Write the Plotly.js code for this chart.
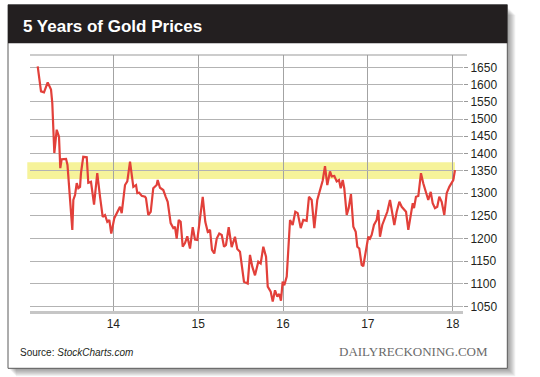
<!DOCTYPE html>
<html>
<head>
<meta charset="utf-8">
<script src="https://cdn.plot.ly/plotly-3.0.1.min.js"></script>
<style>
  html, body { margin: 0; padding: 0; background: #ffffff; }
  #chart { width: 540px; height: 377px; }
</style>
</head>
<body>
<div id="chart"></div>
<script>
// ---- Data ----
const titleText = "5 Years of Gold Prices";
const sourceText = "Source: <i>StockCharts.com</i>";
const brandText = "DAILYRECKONING.COM";

// decimal years (x) and gold price (USD/oz)
const years = [
  2013.109, 2013.148, 2013.183, 2013.227, 2013.266, 2013.281, 2013.305, 2013.333, 2013.360, 2013.375,
  2013.392, 2013.443, 2013.460, 2013.517, 2013.529, 2013.549, 2013.569, 2013.588, 2013.608, 2013.619,
  2013.646, 2013.687, 2013.705, 2013.737, 2013.773, 2013.811, 2013.843, 2013.875, 2013.902, 2013.929,
  2013.953, 2013.976, 2014.012, 2014.052, 2014.079, 2014.099, 2014.138, 2014.165, 2014.197, 2014.236,
  2014.268, 2014.283, 2014.306, 2014.335, 2014.374, 2014.385, 2014.412, 2014.441, 2014.471, 2014.511,
  2014.523, 2014.550, 2014.589, 2014.618, 2014.641, 2014.676, 2014.707, 2014.727, 2014.747, 2014.771,
  2014.794, 2014.818, 2014.845, 2014.872, 2014.904, 2014.936, 2014.963, 2014.990, 2015.022, 2015.054,
  2015.084, 2015.113, 2015.140, 2015.163, 2015.190, 2015.219, 2015.249, 2015.278, 2015.305, 2015.328,
  2015.360, 2015.395, 2015.434, 2015.461, 2015.493, 2015.540, 2015.584, 2015.611, 2015.638, 2015.670,
  2015.709, 2015.737, 2015.768, 2015.800, 2015.820, 2015.855, 2015.879, 2015.906, 2015.933, 2015.956,
  2015.976, 2015.996, 2016.015, 2016.044, 2016.083, 2016.114, 2016.145, 2016.173, 2016.209, 2016.239,
  2016.279, 2016.306, 2016.338, 2016.369, 2016.404, 2016.436, 2016.468, 2016.495, 2016.522, 2016.554,
  2016.574, 2016.605, 2016.633, 2016.660, 2016.680, 2016.704, 2016.722, 2016.751, 2016.774, 2016.801,
  2016.829, 2016.857, 2016.876, 2016.899, 2016.927, 2016.946, 2016.975, 2017.005, 2017.025, 2017.045,
  2017.072, 2017.104, 2017.123, 2017.143, 2017.170, 2017.202, 2017.229, 2017.261, 2017.288, 2017.312,
  2017.340, 2017.371, 2017.399, 2017.426, 2017.450, 2017.477, 2017.505, 2017.529, 2017.544, 2017.567,
  2017.595, 2017.626, 2017.653, 2017.685, 2017.712, 2017.741, 2017.764, 2017.791, 2017.818, 2017.842,
  2017.870, 2017.901, 2017.929, 2017.960, 2017.988, 2018.007, 2018.027
];
const prices = [
  1654, 1581, 1578, 1607, 1586, 1547, 1401, 1469, 1449, 1357,
  1383, 1384, 1366, 1219, 1285, 1296, 1322, 1311, 1314, 1344,
  1390, 1389, 1323, 1325, 1275, 1344, 1293, 1248, 1252, 1237,
  1241, 1211, 1245, 1259, 1270, 1256, 1318, 1326, 1376, 1314,
  1318, 1300, 1301, 1294, 1292, 1289, 1252, 1259, 1311, 1318,
  1329, 1312, 1307, 1292, 1281, 1234, 1223, 1226, 1200, 1241,
  1237, 1182, 1190, 1205, 1178, 1225, 1198, 1197, 1250, 1292,
  1237, 1215, 1219, 1175, 1167, 1200, 1211, 1208, 1182, 1186,
  1225, 1181, 1204, 1177, 1171, 1105, 1101, 1164, 1138, 1119,
  1149, 1145, 1182, 1160, 1094, 1083, 1061, 1086, 1072, 1078,
  1063, 1105, 1097, 1116, 1241, 1230, 1259, 1256, 1223, 1241,
  1239, 1292, 1285, 1223, 1285, 1305, 1328, 1363, 1318, 1348,
  1337, 1338, 1326, 1329, 1311, 1329, 1311, 1252, 1267, 1298,
  1226, 1215, 1182, 1178, 1142, 1139, 1171, 1204, 1200, 1208,
  1230, 1241, 1263, 1204, 1230, 1245, 1259, 1285, 1256, 1230,
  1259, 1281, 1270, 1263, 1259, 1219, 1248, 1278, 1267, 1292,
  1294, 1344, 1322, 1300, 1285, 1303, 1278, 1267, 1270, 1292,
  1281, 1252, 1300, 1314, 1325, 1329, 1351
];

const yTickValues = [1050, 1100, 1150, 1200, 1250, 1300, 1350, 1400, 1450, 1500, 1550, 1600, 1650];
const xTickValues = [2014, 2015, 2016, 2017, 2018];
const xTickLabels = ["14", "15", "16", "17", "18"];
const bandLow = 1331;
const bandHigh = 1374;

// ---- The reference's price scale is compressed above 1350 ----
const scaleBreak = 1350;
const upperRatio = 17.1 / 22.64;
function scaleY(v) {
  return v <= scaleBreak ? v : scaleBreak + (v - scaleBreak) * upperRatio;
}

// ---- Layout geometry (pixels) ----
const W = 540, H = 377;
const L = 30, R = 463, T = 55, B = 311;
const px = x => (x - L) / (R - L);
const py = y => (B - y) / (B - T);

const shapes = [];
// drop shadow
for (let i = 1; i <= 8; i++) {
  shapes.push({
    type: 'rect', xref: 'paper', yref: 'paper', layer: 'below',
    x0: px(8 + i), x1: px(507.3 + i), y0: py(4.7 + i + 2), y1: py(368.3 + i),
    line: { width: 0 }, fillcolor: 'rgba(0,0,0,0.055)'
  });
}
// card
shapes.push({
  type: 'rect', xref: 'paper', yref: 'paper', layer: 'below',
  x0: px(8), x1: px(507.3), y0: py(4.7), y1: py(368.3),
  line: { width: 1, color: '#5a5a5a' }, fillcolor: '#ffffff'
});
// title bar
shapes.push({
  type: 'rect', xref: 'paper', yref: 'paper', layer: 'below',
  x0: px(8), x1: px(507.3), y0: py(4.7), y1: py(43.3),
  line: { width: 0 }, fillcolor: '#231f20'
});
// yellow band
shapes.push({
  type: 'rect', xref: 'paper', yref: 'y', layer: 'below',
  x0: px(27.3), x1: px(455), y0: scaleY(bandLow), y1: scaleY(bandHigh),
  line: { width: 0 }, fillcolor: '#f6f39a'
});
// top border of the plot
shapes.push({
  type: 'line', xref: 'paper', yref: 'paper', layer: 'above',
  x0: 0, x1: px(467), y0: 1, y1: 1,
  line: { width: 1.2, color: '#9a9a9a' }
});

const trace = {
  x: years,
  y: prices.map(scaleY),
  type: 'scatter',
  mode: 'lines',
  line: { color: '#e2403a', width: 2.2 },
  hoverinfo: 'skip'
};

const layout = {
  width: W, height: H,
  margin: { l: L, r: W - R, t: T, b: H - B, pad: 0 },
  paper_bgcolor: '#ffffff',
  plot_bgcolor: 'rgba(0,0,0,0)',
  showlegend: false,
  title: {
    text: titleText,
    x: 23 / W, xanchor: 'left', xref: 'container',
    y: 1 - 26.5 / H, yanchor: 'middle', yref: 'container',
    font: { family: 'Liberation Sans, Arial, sans-serif', size: 17, color: '#ffffff', weight: 700 }
  },
  xaxis: {
    type: 'linear',
    range: [2014 + (L - 113.3) / 84.85, 2014 + (R - 113.3) / 84.85],
    tickvals: xTickValues, ticktext: xTickLabels,
    showgrid: true, gridcolor: '#a3a3a3', gridwidth: 1,
    zeroline: false,
    showline: true, linecolor: '#c6c6c6', linewidth: 2.5,
    ticks: '', ticklabelstandoff: 0,
    tickfont: { family: 'Liberation Sans, Arial, sans-serif', size: 12, color: '#231f20' },
    fixedrange: true
  },
  yaxis: {
    type: 'linear',
    side: 'right',
    range: [1040.3, 1604.6],
    tickvals: yTickValues.map(scaleY), ticktext: yTickValues.map(String),
    showgrid: true, gridcolor: '#b3b3b3', gridwidth: 1,
    zeroline: false, showline: false,
    ticks: 'outside', ticklen: 4, tickcolor: '#9a9a9a', tickwidth: 1,
    tickfont: { family: 'Liberation Sans, Arial, sans-serif', size: 12, color: '#231f20' },
    fixedrange: true
  },
  shapes: shapes,
  annotations: [
    {
      text: sourceText, xref: 'paper', yref: 'paper',
      x: px(18), y: py(352), xanchor: 'left', yanchor: 'middle', showarrow: false,
      font: { family: 'Liberation Sans, Arial, sans-serif', size: 10, color: '#231f20' }
    },
    {
      text: brandText, xref: 'paper', yref: 'paper',
      x: px(489.5), y: py(351), xanchor: 'right', yanchor: 'middle', showarrow: false,
      font: { family: 'Liberation Serif, Times New Roman, serif', size: 13, color: '#6a6a6a' }
    }
  ]
};

Plotly.newPlot('chart', [trace], layout, { displayModeBar: false, staticPlot: true });
</script>
</body>
</html>
